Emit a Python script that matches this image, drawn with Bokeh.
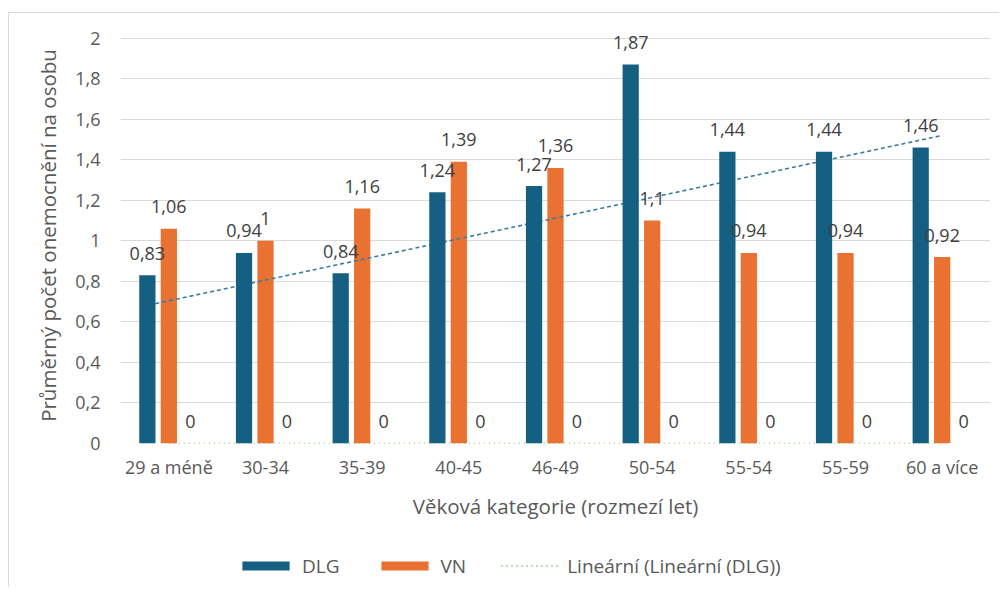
from bokeh.plotting import figure
from bokeh.models import (Range1d, FixedTicker, Legend, LegendItem, ColumnDataSource)
from bokeh.layouts import column
from bokeh.core.properties import value
from bokeh.embed import file_html
from bokeh.resources import INLINE
import numpy as np

# ---- data ----
categories = ["29 a méně", "30-34", "35-39", "40-45", "46-49", "50-54", "55-54", "55-59", "60 a více"]
dlg = [0.83, 0.94, 0.84, 1.24, 1.27, 1.87, 1.44, 1.44, 1.46]
vn = [1.06, 1.00, 1.16, 1.39, 1.36, 1.10, 0.94, 0.94, 0.92]
third = [0, 0, 0, 0, 0, 0, 0, 0, 0]
dlg_trend = [0.69, 1.52]          # trendline values read at its two ends
y_ticks = [0, 0.2, 0.4, 0.6, 0.8, 1, 1.2, 1.4, 1.6, 1.8, 2]
y_tick_labels = ["0", "0,2", "0,4", "0,6", "0,8", "1", "1,2", "1,4", "1,6", "1,8", "2"]

FONT = "Open Sans"
C_DLG = "#156082"
C_VN = "#E97132"
C_GREEN = "#4EA72E"
C_TREND = "#3A7CA0"
C_AXIS_TXT = "#595959"
C_LBL = "#404040"

n = len(categories)
xc = np.arange(n) + 0.5
off = 0.222
bw = 0.168

def fmt(v):
    return f"{v:g}".replace(".", ",")

p = figure(width=990, height=510, output_backend="svg", toolbar_location=None,
           x_range=Range1d(0, n), y_range=Range1d(0, 2.0527),
           min_border_left=111, min_border_right=9, min_border_top=14, min_border_bottom=80)
p.outline_line_color = None
p.background_fill_color = "white"
p.border_fill_color = "white"

src_dlg = ColumnDataSource(dict(x=xc - off, top=dlg, lab=[fmt(v) for v in dlg]))
src_vn = ColumnDataSource(dict(x=xc, top=vn, lab=[fmt(v) for v in vn]))
src_3 = ColumnDataSource(dict(x=xc + off, top=third, lab=[fmt(v) for v in third]))

p.vbar(x="x", top="top", width=bw, source=src_vn, fill_color=C_VN, line_color=None)
# DLG linear trendline
p.line(x=[xc[0] - 0.14, xc[-1]], y=dlg_trend, line_color=C_TREND, line_width=1.6,
       line_dash="4 3")
p.vbar(x="x", top="top", width=bw, source=src_dlg, fill_color=C_DLG, line_color=None)
# trendline of the third (zero) series
p.line(x=[xc[0], xc[-1]], y=[third[0], third[-1]], line_color=C_GREEN,
       line_width=1.5, line_dash="1 4")

for s in (src_dlg, src_vn, src_3):
    p.text(x="x", y="top", text="lab", source=s, text_align="center", text_baseline="middle",
           y_offset=-22, text_font=value(FONT), text_font_size="18px", text_color=C_LBL)

# axes
p.xaxis.ticker = FixedTicker(ticks=list(xc))
p.xaxis.major_label_overrides = {float(x): c for x, c in zip(xc, categories)}
p.yaxis.ticker = FixedTicker(ticks=y_ticks)
p.yaxis.major_label_overrides = {t: l for t, l in zip(y_ticks, y_tick_labels)}
for ax in (p.xaxis, p.yaxis):
    ax.axis_line_color = None
    ax.major_tick_line_color = None
    ax.minor_tick_line_color = None
    ax.major_tick_out = 0
    ax.major_tick_in = 0
    ax.major_label_text_font = FONT
    ax.major_label_text_font_size = "18px"
    ax.major_label_text_color = C_AXIS_TXT
    ax.axis_label_text_font = FONT
    ax.axis_label_text_font_size = "20.5px"
    ax.axis_label_text_font_style = "normal"
    ax.axis_label_text_color = C_AXIS_TXT
p.xaxis.axis_label = "Věková kategorie (rozmezí let)"
p.yaxis.axis_label = "Průměrný počet onemocnění na osobu"
p.xaxis.major_label_standoff = 11
p.xaxis.axis_label_standoff = 10
p.yaxis.major_label_standoff = 20
p.yaxis.axis_label_standoff = 10

p.xgrid.grid_line_color = None
p.ygrid.grid_line_color = "#d9d9d9"
p.ygrid.grid_line_width = 1
p.ygrid.ticker = FixedTicker(ticks=y_ticks)

# ---- legend strip ----
pl = figure(width=990, height=64, output_backend="svg", toolbar_location=None,
            x_range=Range1d(0, 1), y_range=Range1d(0, 1),
            x_axis_location=None, y_axis_location=None, min_border=0)
pl.outline_line_color = None
pl.grid.visible = False
# invisible proxy glyphs (zero-height bars, one-point line): they only feed the legend swatches
e_bar = ColumnDataSource(dict(x=[0.5], top=[0]))
e_line = ColumnDataSource(dict(x=[0.5], y=[0]))
l_dlg = pl.vbar(x="x", top="top", width=0.01, source=e_bar, fill_color=C_DLG, line_color=None)
l_vn = pl.vbar(x="x", top="top", width=0.01, source=e_bar, fill_color=C_VN, line_color=None)
l_lin = pl.line(x="x", y="y", source=e_line, line_color=C_GREEN, line_width=1.5, line_dash="1 4")
legend = Legend(items=[LegendItem(label="DLG", renderers=[l_dlg]),
                       LegendItem(label="VN", renderers=[l_vn]),
                       LegendItem(label="Lineární (Lineární (DLG))", renderers=[l_lin])],
                orientation="horizontal", location=(116, 8.5),
                glyph_width=59, glyph_height=11, label_height=11, label_standoff=7,
                spacing=35, padding=0, margin=0,
                border_line_color=None, background_fill_alpha=0,
                label_text_font=FONT, label_text_font_size="19px",
                label_text_color=C_AXIS_TXT)
pl.add_layout(legend)

layout = column(p, pl, spacing=0,
                styles={"margin-left": "8px", "margin-top": "12px",
                        "border-top": "1px solid #d9d9d9", "border-left": "1px solid #d9d9d9"})

open("out.html", "w").write(file_html(layout, INLINE))
